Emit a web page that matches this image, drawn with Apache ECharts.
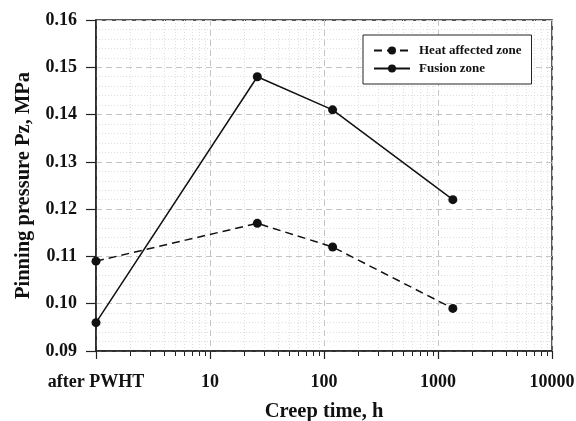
<!DOCTYPE html>
<html>
<head>
<meta charset="utf-8">
<script src="https://cdn.jsdelivr.net/npm/echarts@6/dist/echarts.min.js"></script>
<style>html,body{margin:0;padding:0;background:#fff;}#c{width:576px;height:421px;}</style>
</head>
<body>
<div id="c"></div>
<script>
var creepTime = [1, 26, 119, 1350];
var heatAffected = [0.109, 0.117, 0.112, 0.099];
var fusionZone = [0.096, 0.148, 0.141, 0.122];
var xTickLabels = {1: 'after PWHT', 10: '10', 100: '100', 1000: '1000', 10000: '10000'};
var seriesNames = ['Heat affected zone', 'Fusion zone'];

function pairs(xs, ys) { return xs.map(function (x, i) { return [x, ys[i]]; }); }

var font = 'Liberation Serif';
var chart = echarts.init(document.getElementById('c'), null, {renderer: 'canvas'});
chart.setOption({
  animation: false,
  backgroundColor: '#fff',
  grid: {left: 96, right: 24, top: 20, bottom: 70, show: true, borderColor: '#222', borderWidth: 1.5,
    backgroundColor: 'transparent', containLabel: false, outerBoundsMode: 'none'},
  legend: {
    orient: 'vertical', left: 363, top: 35, padding: [9, 10, 9, 10],
    itemWidth: 36, itemHeight: 10, itemGap: 5,
    borderColor: '#222', borderWidth: 1, backgroundColor: '#fff',
    textStyle: {fontFamily: font, fontWeight: 'bold', fontSize: 13, color: '#111', padding: [0, 0, 0, 4]},
    data: seriesNames
  },
  xAxis: {
    type: 'log', logBase: 10, min: 1, max: 10000,
    name: 'Creep time, h', nameLocation: 'middle', nameGap: 50,
    nameTextStyle: {fontFamily: font, fontWeight: 'bold', fontSize: 20.5, color: '#111'},
    axisLine: {lineStyle: {color: '#222', width: 1.5}},
    axisTick: {show: true, inside: false, length: 8, lineStyle: {color: '#222', width: 1.2}},
    minorTick: {show: true, splitNumber: 9, length: 5, lineStyle: {color: '#222', width: 1}},
    splitLine: {show: true, lineStyle: {color: '#c4c4c4', type: [6, 4], width: 1}},
    minorSplitLine: {show: true, lineStyle: {color: '#dedede', type: [1, 2], width: 1}},
    axisLabel: {margin: 22, fontFamily: font, fontWeight: 'bold', fontSize: 18, color: '#111',
      formatter: function (v) { return xTickLabels[Math.round(v)] !== undefined ? xTickLabels[Math.round(v)] : ''; }}
  },
  yAxis: {
    type: 'value', min: 0.09, max: 0.16, interval: 0.01,
    name: 'Pinning pressure Pz, MPa', nameLocation: 'middle', nameGap: 59, nameRotate: 90,
    nameTextStyle: {fontFamily: font, fontWeight: 'bold', fontSize: 20.5, color: '#111'},
    axisLine: {show: true, lineStyle: {color: '#222', width: 1.5}},
    axisTick: {show: true, inside: false, length: 10, lineStyle: {color: '#222', width: 1.2}},
    splitLine: {show: true, lineStyle: {color: '#c4c4c4', type: [6, 4], width: 1}},
    minorSplitLine: {show: true, lineStyle: {color: '#dedede', type: [1, 2], width: 1}},
    minorTick: {show: false, splitNumber: 5},
    axisLabel: {margin: 19, fontFamily: font, fontWeight: 'bold', fontSize: 18, color: '#111',
      formatter: function (v) { return v.toFixed(2); }}
  },
  series: [
    {name: seriesNames[0], type: 'line', data: pairs(creepTime, heatAffected),
      symbol: 'circle', symbolSize: 9, itemStyle: {color: '#111'},
      lineStyle: {color: '#111', width: 1.5, type: [8, 5]}},
    {name: seriesNames[1], type: 'line', data: pairs(creepTime, fusionZone),
      symbol: 'circle', symbolSize: 9, itemStyle: {color: '#111'},
      lineStyle: {color: '#111', width: 1.5, type: 'solid'}}
  ]
});
</script>
</body>
</html>
